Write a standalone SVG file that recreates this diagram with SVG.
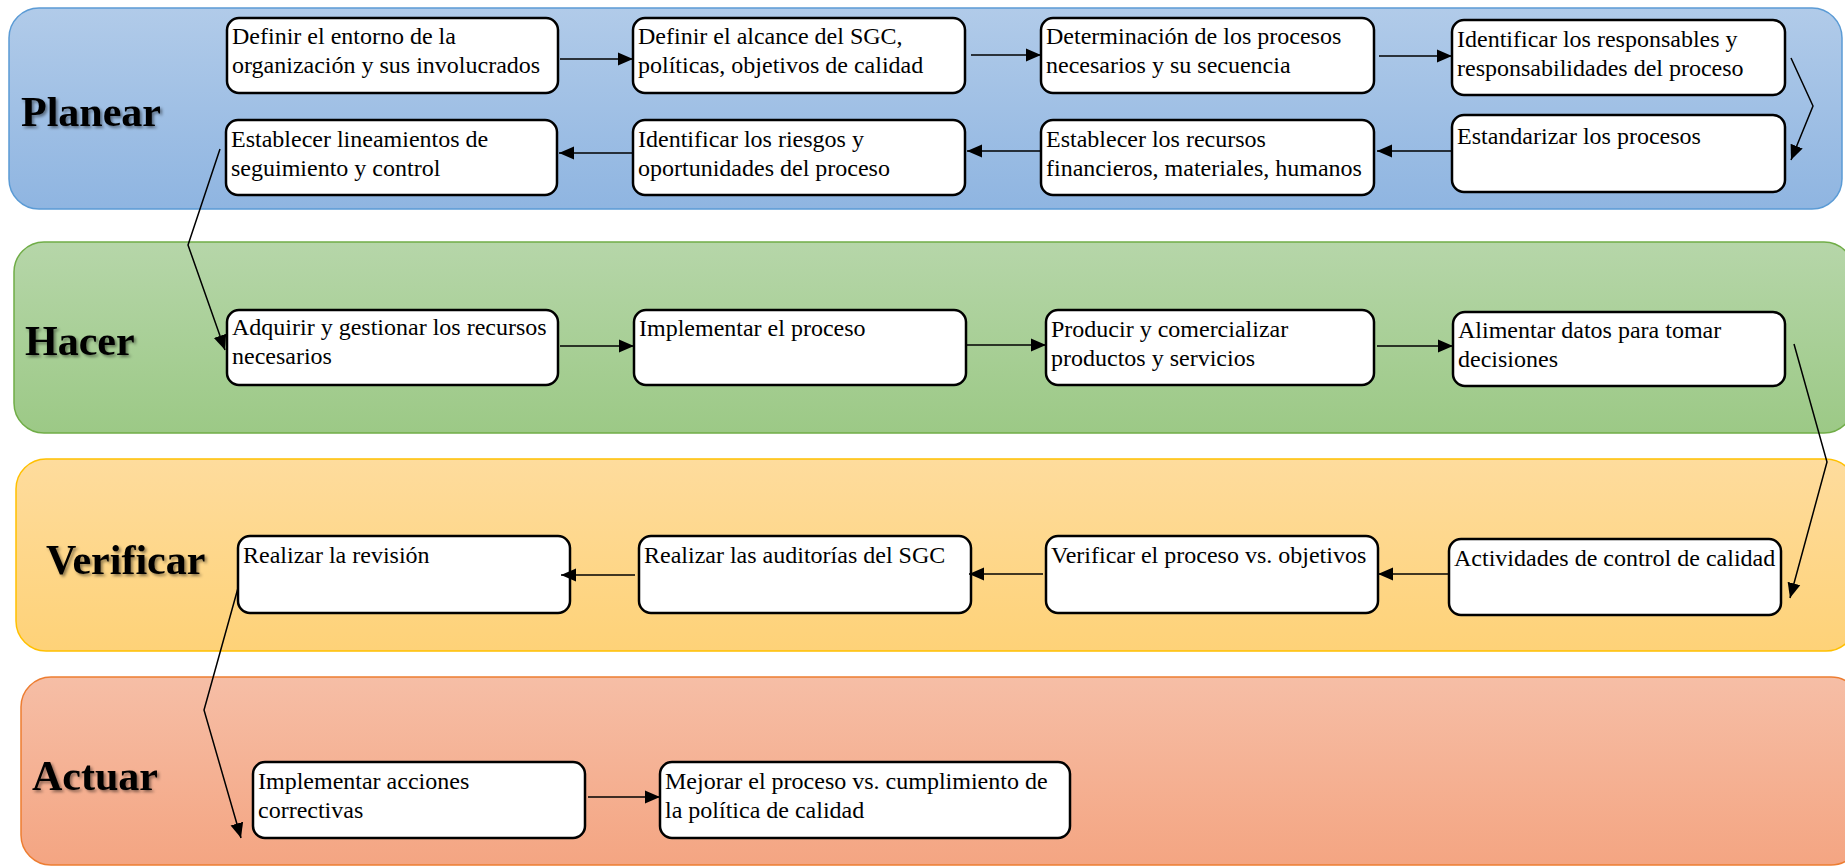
<svg xmlns="http://www.w3.org/2000/svg" width="1845" height="866" viewBox="0 0 1845 866">
  <defs>
    <linearGradient id="gPlan" x1="0" y1="0" x2="0" y2="1">
      <stop offset="0" stop-color="#b1cbe9"/>
      <stop offset="1" stop-color="#8fb5e1"/>
    </linearGradient>
    <linearGradient id="gHacer" x1="0" y1="0" x2="0" y2="1">
      <stop offset="0" stop-color="#b6d6a9"/>
      <stop offset="1" stop-color="#9cc986"/>
    </linearGradient>
    <linearGradient id="gVerif" x1="0" y1="0" x2="0" y2="1">
      <stop offset="0" stop-color="#fedc9d"/>
      <stop offset="1" stop-color="#fed278"/>
    </linearGradient>
    <linearGradient id="gActuar" x1="0" y1="0" x2="0" y2="1">
      <stop offset="0" stop-color="#f6bea6"/>
      <stop offset="1" stop-color="#f4a582"/>
    </linearGradient>
    <filter id="shadow" x="-10%" y="-20%" width="130%" height="150%">
      <feDropShadow dx="2" dy="2" stdDeviation="1.5" flood-color="#000" flood-opacity="0.45"/>
    </filter>
    <marker id="arrow" markerUnits="userSpaceOnUse" markerWidth="16" markerHeight="16" viewBox="0 0 16 16" refX="15" refY="8" orient="auto">
      <path d="M0,1.5 L15,8 L0,14.5 Z" fill="#000"/>
    </marker>
  </defs>
  <style>
    .band { stroke-width: 1.5; }
    .label { font-family: "Liberation Serif", "Times New Roman", serif; font-weight: bold; font-size: 42px; fill: #000; }
    .box { fill: #fff; stroke: #000; stroke-width: 2.5; }
    .txt { font-family: "Liberation Serif", "Times New Roman", serif; font-size: 24px; fill: #000; }
    .conn { fill: none; stroke: #000; stroke-width: 1.5; marker-end: url(#arrow); }
  </style>

  <!-- phase bands -->
  <g id="band-planear">
    <rect class="band" x="9" y="8" width="1833" height="201" rx="30" fill="url(#gPlan)" stroke="#5b9bd5"/>
    <text class="label" x="21" y="126" filter="url(#shadow)">Planear</text>
  </g>
  <g id="band-hacer">
    <rect class="band" x="14" y="242" width="1840" height="191" rx="30" fill="url(#gHacer)" stroke="#70ad47"/>
    <text class="label" x="25" y="355" filter="url(#shadow)">Hacer</text>
  </g>
  <g id="band-verificar">
    <rect class="band" x="16" y="459" width="1840" height="192" rx="30" fill="url(#gVerif)" stroke="#ffc000"/>
    <text class="label" x="46" y="574" filter="url(#shadow)">Verificar</text>
  </g>
  <g id="band-actuar">
    <rect class="band" x="21" y="677" width="1840" height="188" rx="30" fill="url(#gActuar)" stroke="#ed7d31"/>
    <text class="label" x="32" y="790" filter="url(#shadow)">Actuar</text>
  </g>

  <!-- Planear steps -->
  <g id="n1">
    <rect class="box" x="227" y="18" width="331" height="75" rx="12"/>
    <text class="txt" x="232" y="44">Definir el entorno de la</text>
    <text class="txt" x="232" y="73">organización y sus involucrados</text>
  </g>
  <g id="n2">
    <rect class="box" x="633" y="18" width="332" height="75" rx="12"/>
    <text class="txt" x="638" y="44">Definir el alcance del SGC,</text>
    <text class="txt" x="638" y="73">políticas, objetivos de calidad</text>
  </g>
  <g id="n3">
    <rect class="box" x="1041" y="18" width="333" height="75" rx="12"/>
    <text class="txt" x="1046" y="44">Determinación de los procesos</text>
    <text class="txt" x="1046" y="73">necesarios y su secuencia</text>
  </g>
  <g id="n4">
    <rect class="box" x="1452" y="20" width="333" height="75" rx="12"/>
    <text class="txt" x="1457" y="47">Identificar los responsables y</text>
    <text class="txt" x="1457" y="76">responsabilidades del proceso</text>
  </g>
  <g id="n5">
    <rect class="box" x="1452" y="115" width="333" height="77" rx="12"/>
    <text class="txt" x="1457" y="144">Estandarizar los procesos</text>
  </g>
  <g id="n6">
    <rect class="box" x="1041" y="120" width="333" height="75" rx="12"/>
    <text class="txt" x="1046" y="147">Establecer los recursos</text>
    <text class="txt" x="1046" y="176">financieros, materiales, humanos</text>
  </g>
  <g id="n7">
    <rect class="box" x="633" y="120" width="332" height="75" rx="12"/>
    <text class="txt" x="638" y="147">Identificar los riesgos y</text>
    <text class="txt" x="638" y="176">oportunidades del proceso</text>
  </g>
  <g id="n8">
    <rect class="box" x="226" y="120" width="331" height="75" rx="12"/>
    <text class="txt" x="231" y="147">Establecer lineamientos de</text>
    <text class="txt" x="231" y="176">seguimiento y control</text>
  </g>

  <!-- Hacer steps -->
  <g id="n9">
    <rect class="box" x="227" y="310" width="331" height="75" rx="12"/>
    <text class="txt" x="232" y="335">Adquirir y gestionar los recursos</text>
    <text class="txt" x="232" y="364">necesarios</text>
  </g>
  <g id="n10">
    <rect class="box" x="634" y="310" width="332" height="75" rx="12"/>
    <text class="txt" x="639" y="336">Implementar el proceso</text>
  </g>
  <g id="n11">
    <rect class="box" x="1046" y="310" width="328" height="75" rx="12"/>
    <text class="txt" x="1051" y="337">Producir y comercializar</text>
    <text class="txt" x="1051" y="366">productos y servicios</text>
  </g>
  <g id="n12">
    <rect class="box" x="1453" y="312" width="332" height="74" rx="12"/>
    <text class="txt" x="1458" y="338">Alimentar datos para tomar</text>
    <text class="txt" x="1458" y="367">decisiones</text>
  </g>

  <!-- Verificar steps -->
  <g id="n13">
    <rect class="box" x="1449" y="539" width="332" height="76" rx="12"/>
    <text class="txt" x="1454" y="566">Actividades de control de calidad</text>
  </g>
  <g id="n14">
    <rect class="box" x="1046" y="536" width="332" height="77" rx="12"/>
    <text class="txt" x="1051" y="563">Verificar el proceso vs. objetivos</text>
  </g>
  <g id="n15">
    <rect class="box" x="639" y="536" width="332" height="77" rx="12"/>
    <text class="txt" x="644" y="563">Realizar las auditorías del SGC</text>
  </g>
  <g id="n16">
    <rect class="box" x="238" y="536" width="332" height="77" rx="12"/>
    <text class="txt" x="243" y="563">Realizar la revisión</text>
  </g>

  <!-- Actuar steps -->
  <g id="n17">
    <rect class="box" x="253" y="762" width="332" height="76" rx="12"/>
    <text class="txt" x="258" y="789">Implementar acciones</text>
    <text class="txt" x="258" y="818">correctivas</text>
  </g>
  <g id="n18">
    <rect class="box" x="660" y="762" width="410" height="76" rx="12"/>
    <text class="txt" x="665" y="789">Mejorar el proceso vs. cumplimiento de</text>
    <text class="txt" x="665" y="818">la política de calidad</text>
  </g>

  <!-- connectors -->
  <g id="connectors">
    <path class="conn" d="M560,59 H633"/>
    <path class="conn" d="M971,55 H1041"/>
    <path class="conn" d="M1379,56 H1452"/>
    <path class="conn" d="M1791,58 L1813,106 L1791,160"/>
    <path class="conn" d="M1452,151 H1377"/>
    <path class="conn" d="M1041,151 H967"/>
    <path class="conn" d="M633,153 H559"/>
    <path class="conn" d="M220,149 L188,245 L225,350"/>
    <path class="conn" d="M560,346 H634"/>
    <path class="conn" d="M967,345 H1046"/>
    <path class="conn" d="M1377,346 H1453"/>
    <path class="conn" d="M1794,344 L1827,462 L1790,598"/>
    <path class="conn" d="M1449,574 H1378"/>
    <path class="conn" d="M1043,574 H969"/>
    <path class="conn" d="M635,575 H561"/>
    <path class="conn" d="M238,588 L204,710 L241,838"/>
    <path class="conn" d="M588,797 H660"/>
  </g>
</svg>
